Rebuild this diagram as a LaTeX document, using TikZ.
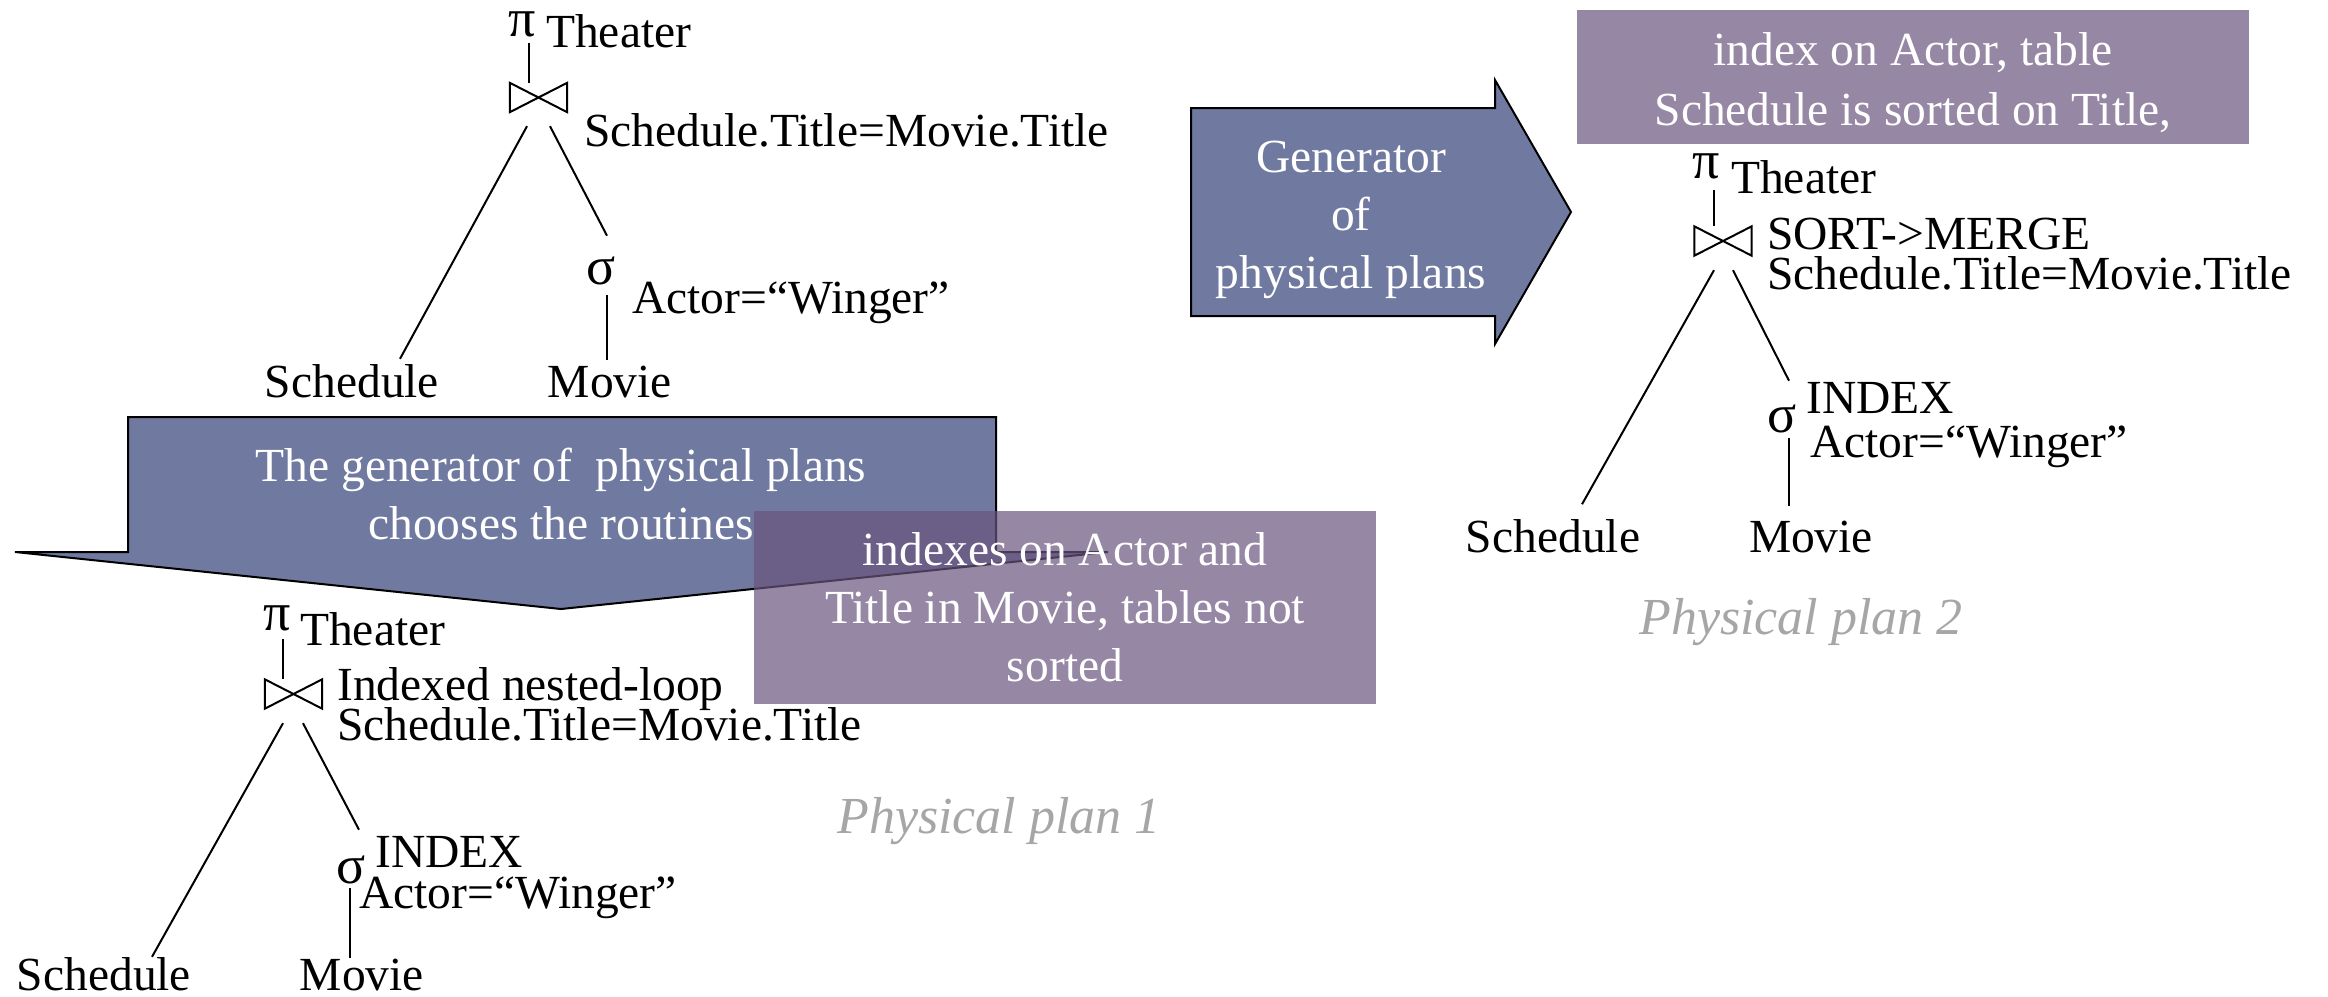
\documentclass[tikz,border=0pt]{standalone}
\usepackage{fontspec}
\setmainfont{Liberation Serif}
\usetikzlibrary{calc}
\definecolor{arrowblue}{RGB}{112,122,160}
\definecolor{notepurple}{RGB}{105,84,126}
\definecolor{plangray}{RGB}{166,166,166}
\newcommand{\tfont}{\fontsize{47.5}{57}\selectfont}
\newcommand{\gfont}{\fontsize{54}{60}\selectfont}
\newcommand{\pfont}{\fontsize{52}{60}\selectfont\itshape}
\tikzset{
  lbl/.style={inner sep=0pt, font=\tfont},
  greek/.style={inner sep=0pt, font=\gfont},
  bowbox/.style={minimum width=57pt, minimum height=29pt, inner sep=0pt},
  bowtie/.style={line width=2pt, line join=miter},
  treeline/.style={line width=2pt},
  bluearrow/.style={fill=arrowblue, draw=black, line width=2pt, line join=miter},
  gentext/.style={inner sep=0pt, text=white, align=center, font=\fontsize{47.5}{58}\selectfont},
  notebox/.style={fill=notepurple, fill opacity=0.7, text opacity=1, text=white, align=center, inner sep=0pt, font=\fontsize{47.5}{58}\selectfont},
  plantext/.style={inner sep=0pt, text=plangray, font=\pfont}
}
\begin{document}
\begin{tikzpicture}[x=1pt,y=-1pt]
\useasboundingbox (0,0) rectangle (2328,996);

% ---------------- logical plan (top) ----------------
\node[greek] (p0pi) at (522,24) {π};
\node[lbl, anchor=base west] (p0th) at (546,47) {Theater};
\node[bowbox] (p0j) at (538.5,97.5) {};
\draw[bowtie] (p0j.north west) -- (p0j.south west) -- (p0j.north east) -- (p0j.south east) -- cycle;
\node[lbl, anchor=base west] (p0c) at (584,146) {Schedule.Title=Movie.Title};
\node[greek] (p0sg) at (601,271) {σ};
\node[lbl, anchor=base west] (p0a) at (632,313) {Actor=“Winger”};
\node[lbl, anchor=base] (p0s) at (352,397) {Schedule};
\node[lbl, anchor=base] (p0m) at (610,397) {Movie};
\draw[treeline] ($(p0pi.south)+(7,6)$) -- ($(p0j.north)+(-9.5,0)$);
\draw[treeline] ($(p0j.south)+(-11.5,14)$) -- ($(p0s.north)+(48,-5)$);
\draw[treeline] ($(p0j.south)+(11.5,14)$) -- ($(p0sg.north)+(6,-21)$);
\draw[treeline] ($(p0sg.south)+(6,10)$) -- ($(p0m.north)+(-3,-5)$);

% ---------------- generator arrow (down) ----------------
\draw[bluearrow] (128,417) -- (996,417) -- (996,552) -- (1108,552) -- (561,609) -- (15,552) -- (128,552) -- cycle;
\node[gentext] (gen1) at (561,494) {The generator of\ \ physical plans\\chooses the routines};

% ---------------- note box 1 ----------------
\node[notebox, minimum width=622pt, minimum height=193pt] (note1) at (1065,607.5) {indexes on Actor and\\Title in Movie, tables not\\sorted};

% ---------------- physical plan 1 ----------------
\node[greek] (p1pi) at (277,618) {π};
\node[lbl, anchor=base west] (p1th) at (300,645) {Theater};
\node[bowbox] (p1j) at (293.5,694) {};
\draw[bowtie] (p1j.north west) -- (p1j.south west) -- (p1j.north east) -- (p1j.south east) -- cycle;
\node[lbl, anchor=base west] (p1c1) at (337,700) {Indexed nested-loop};
\node[lbl, anchor=base west] (p1c2) at (337,740) {Schedule.Title=Movie.Title};
\node[greek] (p1sg) at (351,870) {σ};
\node[lbl, anchor=base west] (p1ix) at (375,867) {INDEX};
\node[lbl, anchor=base west] (p1a) at (359,908) {Actor=“Winger”};
\node[lbl, anchor=base] (p1s) at (104,990) {Schedule};
\node[lbl, anchor=base] (p1m) at (362,990) {Movie};
\draw[treeline] ($(p1pi.south)+(6,8)$) -- ($(p1j.north)+(-10.5,0)$);
\draw[treeline] ($(p1j.south)+(-10.5,14.5)$) -- ($(p1s.north)+(48,0)$);
\draw[treeline] ($(p1j.south)+(9.5,14.5)$) -- ($(p1sg.north)+(8,-26)$);
\draw[treeline] ($(p1sg.south)+(-1,4)$) -- ($(p1m.north)+(-12,0)$);
\node[plantext] (plan1) at (999,821) {Physical plan 1};

% ---------------- generator arrow (right) ----------------
\draw[bluearrow] (1191,108) -- (1495,108) -- (1495,80) -- (1571,212) -- (1495,344) -- (1495,316) -- (1191,316) -- cycle;
\node[gentext] (gen2) at (1351,220) {Generator\\of\\physical plans};

% ---------------- note box 2 ----------------
\node[notebox, minimum width=672pt, minimum height=134pt, font=\fontsize{47.5}{60}\selectfont] (note2) at (1913,77) {\rule{0pt}{44pt}index on Actor, table\\Schedule is sorted on Title,};

% ---------------- physical plan 2 ----------------
\node[greek] (p2pi) at (1706,166) {π};
\node[lbl, anchor=base west] (p2th) at (1731,193) {Theater};
\node[bowbox] (p2j) at (1723,241) {};
\draw[bowtie] (p2j.north west) -- (p2j.south west) -- (p2j.north east) -- (p2j.south east) -- cycle;
\node[lbl, anchor=base west] (p2c1) at (1767,249) {SORT->MERGE};
\node[lbl, anchor=base west] (p2c2) at (1767,289) {Schedule.Title=Movie.Title};
\node[greek] (p2sg) at (1782,419) {σ};
\node[lbl, anchor=base west] (p2ix) at (1806,413) {INDEX};
\node[lbl, anchor=base west] (p2a) at (1810,457) {Actor=“Winger”};
\node[lbl, anchor=base] (p2s) at (1553,552) {Schedule};
\node[lbl, anchor=base] (p2m) at (1811,552) {Movie};
\draw[treeline] ($(p2pi.south)+(8,11)$) -- ($(p2j.north)+(-9,0)$);
\draw[treeline] ($(p2j.south)+(-9,14.5)$) -- ($(p2s.north)+(29,-14.6)$);
\draw[treeline] ($(p2j.south)+(10,14.5)$) -- ($(p2sg.north)+(7,-24)$);
\draw[treeline] ($(p2sg.south)+(7,5)$) -- ($(p2m.north)+(-22,-14.6)$);
\node[plantext] (plan2) at (1801,622) {Physical plan 2};
\end{tikzpicture}
\end{document}
